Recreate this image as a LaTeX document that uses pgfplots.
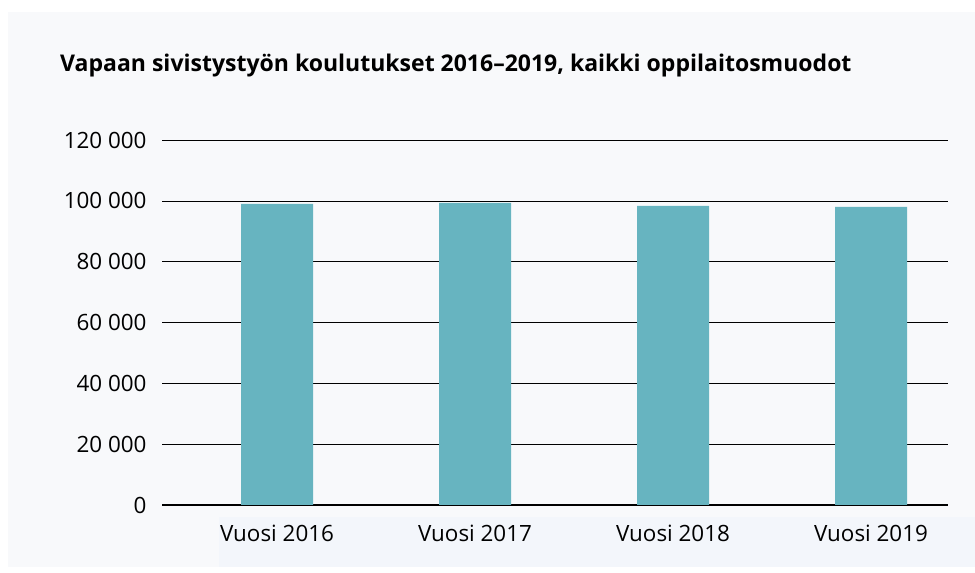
\documentclass[border=0pt]{standalone}
\usepackage{pgfplots}
\pgfplotsset{compat=1.18}
\usepackage{fontspec}
\setmainfont{Open Sans}
\definecolor{panel}{HTML}{F8F9FB}
\definecolor{strip}{HTML}{F3F6FB}
\definecolor{bar}{HTML}{67B4C0}
\begin{document}
\begin{tikzpicture}[x=1bp,y=1bp]
\fill[white] (0,0) rectangle (975,573);
\fill[panel] (8,6) rectangle (975,561);
\fill[strip] (219,6) rectangle (975,56);
\node[anchor=base west,font=\fontsize{23.1}{26}\selectfont\bfseries,inner sep=0pt] at (60,573-72) {Vapaan sivistystyön koulutukset 2016–2019, kaikki oppilaitosmuodot};
\begin{axis}[
  at={(162bp,68bp)}, anchor=south west,
  scale only axis, width=786bp, height=365bp,
  xmin=-0.581, xmax=3.389, ymin=0, ymax=120000,
  scaled y ticks=false,
  axis x line*=bottom, axis y line*=left,
  x axis line style={black, line width=1.2pt, -},
  y axis line style={draw=none},
  ytick={0,20000,40000,60000,80000,100000,120000},
  yticklabels={0,20 000,40 000,60 000,80 000,100 000,120 000},
  ymajorgrids, grid style={black, line width=0.6pt},
  major tick length=0pt,
  xtick={0,1,2,3},
  xticklabels={Vuosi 2016,Vuosi 2017,Vuosi 2018,Vuosi 2019},
  tick label style={font=\fontsize{22.5}{26}\selectfont},
  /pgf/number format/assume math mode=true,
  xticklabel style={yshift=-17bp},
  yticklabel style={xshift=-12bp},
  clip=false,
]
\addplot[ybar, bar width=72bp, fill=bar, draw=none] coordinates {(0,99013) (1,99342) (2,98355) (3,98026)};
\end{axis}
\end{tikzpicture}
\end{document}
